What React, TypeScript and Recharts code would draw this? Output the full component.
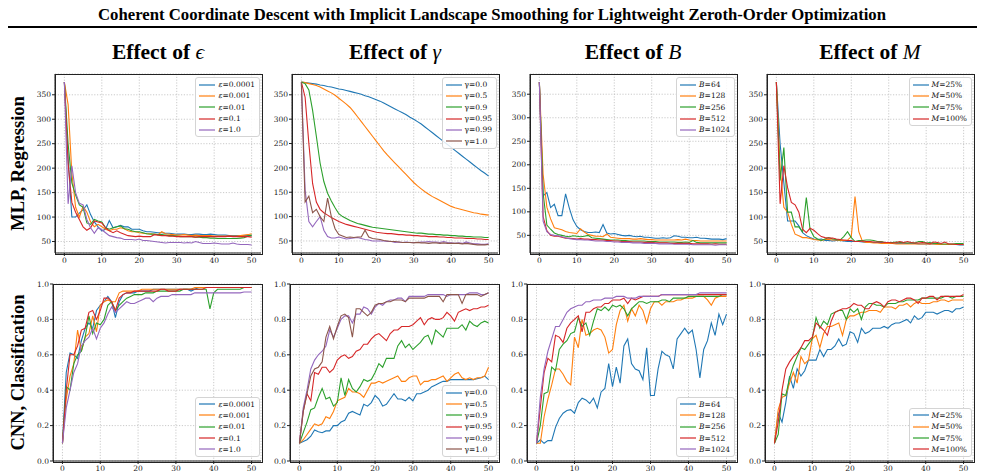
import React from "react";
import { LineChart, Line, XAxis, YAxis, CartesianGrid } from "recharts";

const EPOCHS = [0, 1, 2, 3, 4, 5, 6, 7, 8, 9, 10, 11, 12, 13, 14, 15, 16, 17, 18, 19, 20, 21, 22, 23, 24, 25, 26, 27, 28, 29, 30, 31, 32, 33, 34, 35, 36, 37, 38, 39, 40, 41, 42, 43, 44, 45, 46, 47, 48, 49, 50];
const X_TICKS = [0, 10, 20, 30, 40, 50];
const LOSS_TICKS = [50, 100, 150, 200, 250, 300, 350];
const ACC_TICKS = [0, 0.2, 0.4, 0.6, 0.8, 1.0];
const COLORS = ["#1f77b4", "#ff7f0e", "#2ca02c", "#d62728", "#9467bd", "#8c564b"];

const COL_TITLES = ["ϵ", "γ", "B", "M"];
const ROW_TITLES = ["MLP, Regression", "CNN, Classification"];

// legend labels
const EPS_LABELS = ["0.0001", "0.001", "0.01", "0.1", "1.0"];
const GAMMA_LABELS = ["0.0", "0.5", "0.9", "0.95", "0.99", "1.0"];
const B_LABELS = ["64", "128", "256", "512", "1024"];
const M_LABELS = ["25%", "50%", "75%", "100%"];

// ---- MLP regression (loss) ----
const lossEps0001 = [376, 220, 100, 100, 108, 115, 125, 105, 90, 80, 72, 75, 93, 78, 80, 83, 80, 80, 75, 75, 75, 72, 70, 70, 69, 68, 68, 67, 67, 66, 65, 65, 65, 64, 64, 65, 65, 64, 64, 65, 64, 63, 63, 63, 62, 62, 62, 62, 62, 62, 62];
const lossEps001 = [376, 330, 190, 120, 100, 122, 110, 90, 80, 85, 80, 75, 72, 75, 75, 78, 76, 72, 70, 70, 68, 67, 66, 66, 65, 64, 70, 66, 65, 64, 63, 63, 64, 63, 62, 63, 62, 62, 62, 62, 61, 61, 61, 61, 61, 61, 61, 62, 63, 64, 66];
const lossEps01 = [376, 250, 170, 145, 125, 120, 88, 85, 95, 92, 90, 78, 75, 78, 80, 82, 76, 75, 72, 70, 70, 68, 66, 65, 65, 64, 64, 63, 62, 62, 61, 60, 60, 60, 60, 59, 59, 58, 58, 57, 57, 56, 56, 56, 56, 56, 56, 57, 58, 61, 63];
const lossEps1 = [376, 210, 130, 110, 95, 80, 73, 78, 92, 90, 88, 78, 72, 68, 72, 68, 65, 62, 61, 60, 61, 60, 60, 60, 64, 63, 62, 62, 61, 61, 60, 60, 60, 60, 60, 59, 60, 60, 60, 60, 60, 60, 60, 60, 61, 60, 60, 60, 60, 60, 59];
const lossEps10 = [376, 127, 205, 150, 128, 125, 95, 78, 67, 78, 74, 68, 62, 60, 58, 57, 54, 54, 54, 53, 55, 52, 52, 51, 50, 49, 48, 47, 48, 48, 48, 48, 47, 48, 47, 50, 48, 46, 46, 46, 47, 46, 45, 45, 45, 47, 45, 44, 44, 44, 43];

const lossG00 = [376, 375, 374, 373, 372, 370, 369, 367, 366, 364, 362, 361, 359, 357, 355, 353, 351, 348, 346, 343, 340, 337, 333, 329, 325, 321, 317, 313, 309, 304, 300, 295, 290, 284, 278, 272, 266, 260, 254, 248, 242, 236, 230, 224, 218, 212, 206, 200, 194, 189, 183];
const lossG05 = [376, 375, 373, 371, 369, 366, 362, 358, 354, 349, 343, 337, 331, 324, 315, 305, 295, 285, 275, 265, 255, 245, 235, 226, 218, 210, 202, 194, 186, 178, 170, 163, 157, 151, 146, 141, 137, 133, 129, 125, 121, 118, 116, 114, 112, 110, 108, 107, 105, 104, 103];
const lossG09 = [376, 373, 360, 318, 265, 210, 172, 148, 132, 118, 106, 100, 96, 92, 89, 86, 84, 82, 80, 78, 77, 76, 75, 74, 73, 72, 71, 70, 69, 68, 67, 66, 66, 65, 64, 64, 63, 63, 62, 62, 61, 61, 60, 60, 59, 59, 58, 58, 58, 57, 57];
const lossG095 = [376, 345, 250, 168, 130, 115, 108, 103, 98, 94, 90, 87, 84, 82, 80, 78, 76, 74, 72, 70, 68, 67, 66, 65, 65, 64, 63, 63, 62, 62, 61, 61, 60, 60, 59, 59, 59, 58, 58, 57, 57, 56, 56, 56, 55, 55, 55, 54, 54, 53, 53];
const lossG099 = [376, 155, 90, 79, 90, 100, 72, 59, 56, 56, 58, 56, 54, 55, 56, 57, 55, 53, 52, 50, 50, 50, 50, 49, 49, 47, 48, 47, 48, 47, 47, 47, 48, 48, 49, 48, 48, 47, 49, 47, 46, 45, 46, 45, 48, 46, 44, 44, 43, 43, 44];
const lossG10 = [376, 130, 142, 108, 115, 100, 90, 138, 100, 75, 63, 60, 57, 58, 57, 58, 58, 72, 58, 55, 54, 53, 51, 50, 49, 49, 48, 47, 47, 47, 46, 47, 46, 46, 45, 46, 46, 45, 46, 45, 45, 45, 45, 44, 45, 44, 43, 42, 42, 42, 43];

const lossB64 = [376, 134, 141, 109, 116, 92, 92, 138, 108, 83, 69, 62, 58, 56, 56, 57, 56, 73, 55, 53, 54, 52, 50, 49, 50, 48, 47, 48, 46, 46, 45, 44, 44, 45, 44, 45, 49, 48, 46, 46, 45, 45, 46, 44, 44, 43, 42, 42, 42, 41, 43];
const lossB128 = [376, 180, 110, 85, 66, 64, 62, 58, 56, 55, 54, 64, 57, 52, 50, 48, 48, 47, 53, 46, 45, 44, 43, 43, 43, 42, 42, 43, 42, 41, 41, 40, 40, 40, 40, 40, 40, 41, 40, 42, 40, 39, 39, 38, 38, 38, 38, 38, 38, 38, 38];
const lossB256 = [376, 140, 72, 63, 55, 52, 50, 48, 47, 49, 48, 47, 48, 50, 45, 44, 43, 42, 41, 40, 40, 40, 39, 39, 38, 38, 38, 38, 38, 37, 37, 37, 36, 36, 36, 36, 36, 35, 35, 36, 35, 39, 35, 34, 34, 34, 34, 34, 34, 34, 34];
const lossB512 = [376, 90, 60, 50, 48, 48, 46, 44, 44, 43, 42, 43, 42, 42, 41, 41, 40, 40, 39, 39, 38, 38, 37, 37, 37, 36, 36, 36, 35, 35, 35, 34, 34, 34, 34, 33, 33, 33, 33, 33, 33, 32, 32, 32, 32, 32, 31, 32, 31, 31, 31];
const lossB1024 = [376, 80, 58, 52, 50, 49, 47, 45, 43, 42, 41, 41, 40, 40, 39, 38, 38, 38, 37, 37, 36, 36, 35, 35, 35, 34, 34, 34, 33, 33, 33, 33, 32, 32, 32, 32, 31, 31, 31, 31, 31, 30, 30, 30, 30, 30, 30, 29, 30, 30, 30];

const lossM25 = [376, 250, 170, 92, 92, 92, 82, 68, 62, 58, 55, 54, 55, 52, 52, 51, 52, 52, 51, 50, 50, 50, 50, 49, 48, 48, 48, 48, 48, 47, 47, 47, 46, 46, 46, 46, 46, 46, 45, 45, 45, 45, 45, 45, 44, 44, 44, 44, 44, 43, 43];
const lossM50 = [376, 200, 120, 110, 85, 65, 62, 58, 58, 56, 54, 53, 52, 54, 54, 53, 53, 52, 52, 53, 60, 142, 70, 50, 48, 48, 47, 47, 46, 46, 46, 46, 45, 45, 45, 45, 45, 45, 45, 45, 45, 45, 45, 44, 44, 44, 44, 44, 44, 44, 44];
const lossM75 = [376, 175, 242, 110, 110, 80, 80, 70, 140, 75, 60, 55, 52, 55, 58, 55, 54, 53, 60, 70, 58, 50, 52, 52, 53, 53, 52, 50, 50, 48, 48, 48, 49, 48, 48, 47, 48, 47, 50, 50, 47, 48, 46, 46, 45, 45, 45, 45, 46, 46, 46];
const lossM100 = [376, 127, 205, 160, 130, 125, 110, 75, 68, 77, 73, 66, 60, 58, 57, 57, 55, 54, 53, 52, 52, 50, 50, 51, 50, 50, 49, 49, 49, 48, 48, 47, 48, 50, 48, 50, 48, 47, 47, 48, 47, 45, 49, 48, 46, 49, 45, 45, 44, 44, 44];

// ---- CNN classification (accuracy) ----
const accEps0001 = [0.10, 0.50, 0.61, 0.60, 0.58, 0.68, 0.75, 0.78, 0.75, 0.85, 0.88, 0.90, 0.93, 0.90, 0.81, 0.90, 0.94, 0.95, 0.95, 0.95, 0.96, 0.96, 0.96, 0.96, 0.97, 0.97, 0.97, 0.97, 0.97, 0.97, 0.97, 0.97, 0.97, 0.97, 0.96, 0.97, 0.98, 0.98, 0.98, 0.98, 0.98, 0.98, 0.98, 0.98, 0.98, 0.98, 0.98, 0.98, 0.98, 0.98, 0.98];
const accEps001 = [0.10, 0.35, 0.48, 0.55, 0.74, 0.62, 0.70, 0.72, 0.82, 0.73, 0.88, 0.90, 0.91, 0.90, 0.90, 0.95, 0.96, 0.96, 0.96, 0.96, 0.96, 0.97, 0.97, 0.97, 0.97, 0.97, 0.97, 0.97, 0.97, 0.97, 0.97, 0.97, 0.97, 0.97, 0.97, 0.98, 0.98, 0.98, 0.98, 0.98, 0.98, 0.98, 0.98, 0.98, 0.98, 0.98, 0.98, 0.98, 0.98, 0.98, 0.98];
const accEps01 = [0.10, 0.42, 0.40, 0.55, 0.60, 0.62, 0.70, 0.82, 0.72, 0.78, 0.77, 0.80, 0.88, 0.90, 0.85, 0.88, 0.90, 0.92, 0.93, 0.94, 0.94, 0.94, 0.95, 0.95, 0.95, 0.96, 0.96, 0.96, 0.96, 0.96, 0.96, 0.96, 0.97, 0.97, 0.97, 0.97, 0.97, 0.97, 0.97, 0.86, 0.95, 0.97, 0.97, 0.97, 0.97, 0.97, 0.97, 0.97, 0.98, 0.98, 0.98];
const accEps1 = [0.10, 0.40, 0.60, 0.60, 0.65, 0.74, 0.75, 0.84, 0.85, 0.80, 0.85, 0.92, 0.92, 0.90, 0.85, 0.92, 0.94, 0.95, 0.95, 0.96, 0.96, 0.96, 0.96, 0.96, 0.96, 0.96, 0.97, 0.97, 0.96, 0.96, 0.96, 0.97, 0.97, 0.97, 0.97, 0.97, 0.97, 0.97, 0.98, 0.98, 0.98, 0.98, 0.98, 0.98, 0.98, 0.98, 0.98, 0.98, 0.98, 0.98, 0.98];
const accEps10 = [0.10, 0.30, 0.40, 0.50, 0.55, 0.65, 0.68, 0.70, 0.75, 0.69, 0.75, 0.78, 0.83, 0.87, 0.84, 0.86, 0.88, 0.90, 0.89, 0.89, 0.90, 0.91, 0.92, 0.92, 0.90, 0.92, 0.93, 0.93, 0.93, 0.94, 0.94, 0.94, 0.94, 0.94, 0.94, 0.95, 0.95, 0.95, 0.95, 0.95, 0.95, 0.95, 0.95, 0.95, 0.95, 0.95, 0.95, 0.95, 0.955, 0.955, 0.955];

const accG00 = [0.10, 0.11, 0.12, 0.14, 0.175, 0.165, 0.16, 0.17, 0.17, 0.20, 0.20, 0.22, 0.23, 0.27, 0.28, 0.27, 0.26, 0.32, 0.31, 0.33, 0.37, 0.35, 0.31, 0.32, 0.35, 0.38, 0.35, 0.35, 0.34, 0.36, 0.34, 0.38, 0.38, 0.39, 0.40, 0.42, 0.43, 0.44, 0.45, 0.45, 0.46, 0.46, 0.46, 0.46, 0.46, 0.46, 0.46, 0.465, 0.47, 0.48, 0.46];
const accG05 = [0.10, 0.12, 0.15, 0.18, 0.21, 0.20, 0.21, 0.25, 0.24, 0.28, 0.34, 0.35, 0.36, 0.41, 0.39, 0.39, 0.38, 0.36, 0.40, 0.44, 0.44, 0.45, 0.44, 0.45, 0.46, 0.47, 0.48, 0.45, 0.45, 0.47, 0.48, 0.48, 0.43, 0.45, 0.45, 0.46, 0.46, 0.47, 0.48, 0.45, 0.47, 0.49, 0.50, 0.47, 0.46, 0.47, 0.46, 0.47, 0.47, 0.48, 0.53];
const accG09 = [0.10, 0.16, 0.22, 0.29, 0.30, 0.36, 0.41, 0.35, 0.36, 0.31, 0.33, 0.47, 0.37, 0.46, 0.41, 0.39, 0.42, 0.46, 0.45, 0.46, 0.50, 0.55, 0.53, 0.58, 0.58, 0.58, 0.65, 0.68, 0.64, 0.66, 0.63, 0.65, 0.67, 0.70, 0.71, 0.66, 0.74, 0.72, 0.70, 0.75, 0.75, 0.75, 0.75, 0.77, 0.74, 0.79, 0.77, 0.76, 0.78, 0.79, 0.78];
const accG095 = [0.10, 0.28, 0.38, 0.34, 0.50, 0.49, 0.53, 0.53, 0.50, 0.52, 0.57, 0.59, 0.60, 0.58, 0.59, 0.62, 0.63, 0.66, 0.66, 0.69, 0.71, 0.72, 0.70, 0.68, 0.72, 0.74, 0.74, 0.76, 0.76, 0.76, 0.77, 0.79, 0.81, 0.77, 0.80, 0.81, 0.80, 0.80, 0.81, 0.84, 0.82, 0.79, 0.84, 0.85, 0.86, 0.85, 0.86, 0.86, 0.87, 0.87, 0.88];
const accG099 = [0.10, 0.30, 0.40, 0.52, 0.57, 0.60, 0.62, 0.65, 0.74, 0.70, 0.75, 0.80, 0.82, 0.82, 0.78, 0.83, 0.83, 0.87, 0.86, 0.83, 0.87, 0.89, 0.88, 0.90, 0.91, 0.91, 0.92, 0.92, 0.90, 0.93, 0.93, 0.93, 0.93, 0.93, 0.94, 0.94, 0.94, 0.94, 0.94, 0.93, 0.94, 0.94, 0.94, 0.94, 0.94, 0.95, 0.95, 0.95, 0.94, 0.94, 0.95];
const accG10 = [0.10, 0.28, 0.38, 0.48, 0.52, 0.53, 0.56, 0.70, 0.76, 0.69, 0.76, 0.82, 0.83, 0.81, 0.70, 0.86, 0.86, 0.84, 0.82, 0.84, 0.88, 0.89, 0.89, 0.90, 0.90, 0.91, 0.91, 0.91, 0.90, 0.92, 0.92, 0.92, 0.92, 0.92, 0.93, 0.93, 0.93, 0.93, 0.90, 0.94, 0.94, 0.94, 0.94, 0.89, 0.94, 0.94, 0.94, 0.94, 0.93, 0.94, 0.95];

const accB64 = [0.10, 0.12, 0.10, 0.115, 0.115, 0.19, 0.24, 0.27, 0.285, 0.29, 0.27, 0.33, 0.355, 0.345, 0.325, 0.355, 0.30, 0.39, 0.41, 0.55, 0.42, 0.53, 0.44, 0.65, 0.69, 0.55, 0.52, 0.51, 0.46, 0.64, 0.37, 0.37, 0.52, 0.62, 0.60, 0.59, 0.52, 0.69, 0.72, 0.75, 0.72, 0.74, 0.63, 0.47, 0.63, 0.68, 0.78, 0.71, 0.83, 0.77, 0.83];
const accB128 = [0.10, 0.10, 0.25, 0.35, 0.43, 0.52, 0.52, 0.49, 0.45, 0.43, 0.70, 0.64, 0.80, 0.71, 0.72, 0.74, 0.75, 0.74, 0.70, 0.61, 0.63, 0.77, 0.85, 0.88, 0.79, 0.86, 0.82, 0.88, 0.85, 0.78, 0.86, 0.90, 0.90, 0.88, 0.90, 0.90, 0.90, 0.91, 0.91, 0.92, 0.92, 0.92, 0.93, 0.93, 0.93, 0.91, 0.88, 0.92, 0.93, 0.93, 0.93];
const accB256 = [0.10, 0.20, 0.38, 0.39, 0.53, 0.51, 0.63, 0.66, 0.68, 0.72, 0.73, 0.81, 0.76, 0.78, 0.71, 0.79, 0.86, 0.85, 0.87, 0.85, 0.88, 0.87, 0.88, 0.86, 0.82, 0.86, 0.88, 0.90, 0.90, 0.89, 0.90, 0.90, 0.90, 0.91, 0.91, 0.90, 0.92, 0.92, 0.92, 0.92, 0.93, 0.93, 0.93, 0.93, 0.93, 0.93, 0.93, 0.93, 0.93, 0.94, 0.94];
const accB512 = [0.10, 0.30, 0.50, 0.58, 0.56, 0.71, 0.70, 0.67, 0.75, 0.78, 0.80, 0.82, 0.73, 0.84, 0.84, 0.86, 0.87, 0.87, 0.89, 0.89, 0.91, 0.91, 0.91, 0.92, 0.89, 0.92, 0.91, 0.92, 0.93, 0.93, 0.93, 0.93, 0.93, 0.94, 0.94, 0.94, 0.94, 0.94, 0.94, 0.94, 0.94, 0.94, 0.94, 0.94, 0.94, 0.94, 0.94, 0.94, 0.94, 0.94, 0.94];
const accB1024 = [0.10, 0.36, 0.52, 0.62, 0.69, 0.76, 0.76, 0.80, 0.84, 0.86, 0.87, 0.88, 0.88, 0.90, 0.90, 0.91, 0.91, 0.91, 0.92, 0.92, 0.92, 0.93, 0.93, 0.93, 0.92, 0.92, 0.92, 0.93, 0.93, 0.93, 0.93, 0.93, 0.93, 0.94, 0.94, 0.94, 0.94, 0.94, 0.94, 0.94, 0.94, 0.94, 0.94, 0.95, 0.95, 0.95, 0.95, 0.95, 0.95, 0.95, 0.95];

const accM25 = [0.10, 0.27, 0.22, 0.33, 0.48, 0.41, 0.52, 0.48, 0.51, 0.57, 0.57, 0.57, 0.63, 0.59, 0.63, 0.63, 0.65, 0.69, 0.65, 0.66, 0.73, 0.72, 0.67, 0.75, 0.72, 0.73, 0.75, 0.75, 0.75, 0.76, 0.75, 0.77, 0.78, 0.78, 0.79, 0.80, 0.78, 0.82, 0.80, 0.81, 0.84, 0.84, 0.84, 0.83, 0.84, 0.85, 0.85, 0.84, 0.86, 0.86, 0.87];
const accM50 = [0.10, 0.29, 0.36, 0.37, 0.44, 0.50, 0.44, 0.59, 0.55, 0.57, 0.69, 0.71, 0.64, 0.72, 0.76, 0.76, 0.77, 0.78, 0.71, 0.80, 0.82, 0.82, 0.83, 0.84, 0.84, 0.85, 0.85, 0.85, 0.84, 0.87, 0.87, 0.87, 0.86, 0.88, 0.88, 0.89, 0.87, 0.89, 0.90, 0.89, 0.89, 0.89, 0.90, 0.90, 0.91, 0.91, 0.90, 0.91, 0.91, 0.91, 0.91];
const accM75 = [0.10, 0.15, 0.38, 0.37, 0.47, 0.54, 0.59, 0.64, 0.63, 0.66, 0.69, 0.81, 0.75, 0.79, 0.77, 0.83, 0.84, 0.85, 0.85, 0.80, 0.86, 0.84, 0.86, 0.80, 0.87, 0.89, 0.89, 0.88, 0.88, 0.87, 0.89, 0.89, 0.89, 0.90, 0.90, 0.91, 0.91, 0.91, 0.91, 0.92, 0.92, 0.92, 0.92, 0.92, 0.92, 0.93, 0.93, 0.92, 0.93, 0.93, 0.93];
const accM100 = [0.10, 0.22, 0.40, 0.52, 0.56, 0.59, 0.61, 0.64, 0.68, 0.68, 0.70, 0.78, 0.76, 0.74, 0.71, 0.79, 0.84, 0.85, 0.86, 0.86, 0.87, 0.89, 0.88, 0.88, 0.86, 0.86, 0.89, 0.90, 0.89, 0.87, 0.90, 0.91, 0.91, 0.90, 0.91, 0.92, 0.92, 0.91, 0.89, 0.92, 0.92, 0.93, 0.93, 0.91, 0.93, 0.93, 0.93, 0.93, 0.93, 0.93, 0.94];

const SERIF = "'Liberation Serif', 'Times New Roman', serif";
const SMALL = "'DejaVu Serif', serif";
const TICK = { fontSize: 7.5, fontFamily: SMALL, fill: "#222" };

type PanelProps = {
  box: number[]; // left, top, right, bottom of plot area
  yDomain: number[];
  yTicks: number[];
  fmt: (v: number) => string;
  sym: string;
  italic: boolean;
  labels: string[];
  values: number[][];
  legendBottom: boolean;
};

function Panel({ box, yDomain, yTicks, fmt, sym, italic, labels, values, legendBottom }: PanelProps) {
  const [L, T, R, B] = box;
  const padL = 40, padT = 5, padR = 5, padB = 22;
  const w = R - L, h = B - T;
  const data = EPOCHS.map((e, i) => {
    const row: Record<string, number> = { epoch: e };
    values.forEach((v, k) => (row["s" + k] = v[i]));
    return row;
  });

  const legendPos = legendBottom
    ? { right: padR + 1, bottom: padB + 4 }
    : { right: padR + 1, top: padT + 3 };

  return (
    <div style={{ position: "absolute", left: L - padL, top: T - padT }}>
      <LineChart width={w + padL + padR} height={h + padT + padB} data={data} margin={{ top: padT, right: padR, bottom: 0, left: 0 }}>
        <CartesianGrid stroke="#bdbdbd" strokeDasharray="1.2 1.6" strokeWidth={0.8} />
        <XAxis dataKey="epoch" type="number" domain={[-2.5, 52.5]} ticks={X_TICKS} interval={0} height={padB}
          tickSize={3} tickMargin={2} stroke="#222" tick={TICK} allowDataOverflow />
        <YAxis type="number" domain={yDomain} ticks={yTicks} interval={0} width={padL} tickFormatter={fmt}
          tickSize={3} tickMargin={1} stroke="#222" tick={TICK} allowDataOverflow />
        {values.map((_, k) => (
          <Line key={k} type="linear" dataKey={"s" + k} stroke={COLORS[k]} strokeWidth={1.1} dot={false} isAnimationActive={false} />
        ))}
      </LineChart>
      {/* axes frame */}
      <div style={{ position: "absolute", left: padL - 0.5, top: padT - 0.5, width: w, height: h, border: "1px solid #222", pointerEvents: "none" }} />
      <div style={{
        position: "absolute", ...legendPos, background: "rgba(255,255,255,0.85)", border: "1px solid #d4d4d4",
        borderRadius: 3, padding: "1px 4px 1px 3px", fontFamily: SMALL, fontSize: 7.5, color: "#111", whiteSpace: "nowrap",
      }}>
        {labels.map((lab, k) => (
          <div key={k} style={{ display: "flex", alignItems: "center", height: 11.3 }}>
            <svg width={16} height={4} style={{ marginRight: 3 }}>
              <line x1={0} y1={2} x2={16} y2={2} stroke={COLORS[k]} strokeWidth={1.2} />
            </svg>
            <span>
              <span style={{ fontStyle: italic ? "italic" : "normal" }}>{sym}</span>={lab}
            </span>
          </div>
        ))}
      </div>
    </div>
  );
}

const ROW1 = [[55, 74, 261, 253], [292, 74, 498, 253], [530, 74, 736, 253], [767, 74, 973, 253]];
const ROW2 = [[53, 284, 261, 461], [290, 284, 498, 461], [527, 284, 736, 461], [765, 284, 973, 461]];

const intFmt = (v: number) => String(v);
const decFmt = (v: number) => v.toFixed(1);

export default function App() {
  return (
    <div style={{ position: "absolute", left: 0, top: 0, width: 985, height: 476, background: "#fff", overflow: "hidden" }}>
      <Panel box={ROW1[0]} yDomain={[26.5, 392.5]} yTicks={LOSS_TICKS} fmt={intFmt} sym="ε" italic labels={EPS_LABELS}
        values={[lossEps0001, lossEps001, lossEps01, lossEps1, lossEps10]} legendBottom={false} />
      <Panel box={ROW1[1]} yDomain={[25.3, 392.7]} yTicks={LOSS_TICKS} fmt={intFmt} sym="γ" italic={false} labels={GAMMA_LABELS}
        values={[lossG00, lossG05, lossG09, lossG095, lossG099, lossG10]} legendBottom={false} />
      <Panel box={ROW1[2]} yDomain={[12.5, 393]} yTicks={LOSS_TICKS} fmt={intFmt} sym="B" italic labels={B_LABELS}
        values={[lossB64, lossB128, lossB256, lossB512, lossB1024]} legendBottom={false} />
      <Panel box={ROW1[3]} yDomain={[26.5, 392.5]} yTicks={LOSS_TICKS} fmt={intFmt} sym="M" italic labels={M_LABELS}
        values={[lossM25, lossM50, lossM75, lossM100]} legendBottom={false} />

      <Panel box={ROW2[0]} yDomain={[0, 1]} yTicks={ACC_TICKS} fmt={decFmt} sym="ε" italic labels={EPS_LABELS}
        values={[accEps0001, accEps001, accEps01, accEps1, accEps10]} legendBottom />
      <Panel box={ROW2[1]} yDomain={[0, 1]} yTicks={ACC_TICKS} fmt={decFmt} sym="γ" italic={false} labels={GAMMA_LABELS}
        values={[accG00, accG05, accG09, accG095, accG099, accG10]} legendBottom />
      <Panel box={ROW2[2]} yDomain={[0, 1]} yTicks={ACC_TICKS} fmt={decFmt} sym="B" italic labels={B_LABELS}
        values={[accB64, accB128, accB256, accB512, accB1024]} legendBottom />
      <Panel box={ROW2[3]} yDomain={[0, 1]} yTicks={ACC_TICKS} fmt={decFmt} sym="M" italic labels={M_LABELS}
        values={[accM25, accM50, accM75, accM100]} legendBottom />

      <svg width={985} height={476} style={{ position: "absolute", left: 0, top: 0, pointerEvents: "none" }}>
        <text x={492} y={20} textAnchor="middle" fontFamily={SERIF} fontWeight="bold" fontSize={16.5}
          textLength={788} lengthAdjust="spacingAndGlyphs">
          Coherent Coordinate Descent with Implicit Landscape Smoothing for Lightweight Zeroth-Order Optimization
        </text>
        <line x1={8} y1={27} x2={977} y2={27} stroke="#000" strokeWidth={2} />
        {ROW1.map((b, i) => (
          <text key={i} x={(b[0] + b[2]) / 2} y={59} textAnchor="middle" fontFamily={SERIF} fontSize={21.5}>
            <tspan fontWeight="bold">Effect of </tspan>
            <tspan fontStyle="italic">{COL_TITLES[i]}</tspan>
          </text>
        ))}
        {ROW_TITLES.map((t, i) => {
          const b = i === 0 ? ROW1[0] : ROW2[0];
          const cy = (b[1] + b[3]) / 2;
          return (
            <text key={t} x={24} y={cy} textAnchor="middle" fontFamily={SERIF} fontWeight="bold" fontSize={18.5}
              transform={`rotate(-90, 24, ${cy})`}>
              {t}
            </text>
          );
        })}
      </svg>
    </div>
  );
}
